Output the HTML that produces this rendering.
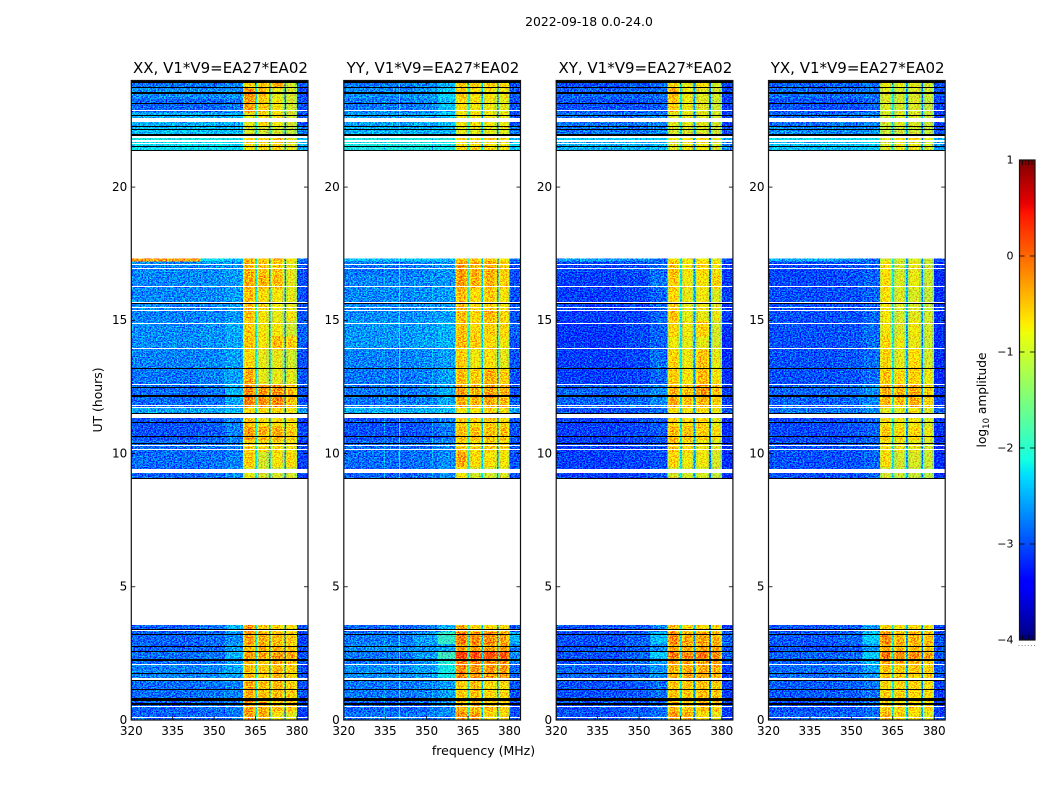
<!DOCTYPE html>
<html>
<head>
<meta charset="utf-8">
<title>2022-09-18 amplitude waterfall</title>
<style>
html,body{margin:0;padding:0;background:#fff;width:1050px;height:800px;overflow:hidden}
svg{display:block}
text{font-family:"DejaVu Sans","Liberation Sans",sans-serif;fill:#000}
</style>
</head>
<body>
<svg id="chart" xmlns="http://www.w3.org/2000/svg" width="1050" height="800" viewBox="0 0 1050 800">
  <defs>
    <filter id="grain" x="0" y="0" width="1" height="1" color-interpolation-filters="sRGB">
      <feTurbulence type="fractalNoise" baseFrequency="0.62 0.8" numOctaves="2" seed="7" result="n"/>
      <feColorMatrix in="n" type="matrix" values="0 0 0 0 0.5  0 3 0 0 -1  0 0 0 0 0.5  0 0 0 0 1" result="g"/>
      <feComposite in="SourceGraphic" in2="g" operator="arithmetic" k1="0" k2="1" k3="0.8" k4="-0.4" result="c"/>
      <feComposite in="c" in2="SourceAlpha" operator="in"/>
    </filter>
  </defs>
  <text x="589" y="26" font-size="12.4" text-anchor="middle">2022-09-18 0.0-24.0</text>
  <text x="483.5" y="755" font-size="12.5" text-anchor="middle">frequency (MHz)</text>
  <text transform="translate(102,400) rotate(-90)" font-size="12.4" text-anchor="middle">UT (hours)</text>
  <text transform="translate(986,400) rotate(-90)" font-size="12.2" text-anchor="middle">log<tspan font-size="8.5" dy="3">10</tspan><tspan dy="-3"> amplitude</tspan></text>
  <g id="panels"></g>
  <g id="colorbar"></g>
</svg>
<script>
// ---- data (log10 amplitude) ----
const panelTitles = ["XX, V1*V9=EA27*EA02", "YY, V1*V9=EA27*EA02", "XY, V1*V9=EA27*EA02", "YX, V1*V9=EA27*EA02"];
const xTicks = [320, 335, 350, 365, 380];
const yTicks = [0, 5, 10, 15, 20];
const cbarTicks = [1, 0, -1, -2, -3, -4];
const valueMin = -4;
const valueMax = 1;
const freqMin = 320;
const freqMax = 384;
const hourMax = 24;

// frequency columns (MHz): background, background, band edge, 4 subbands, tail
const freqBins = [[320, 345], [345, 354], [354, 360.4], [360.4, 364.8], [365.5, 369.8], [370.5, 375.4], [376, 380], [380, 384]];
// narrow gaps between the subbands (MHz)
const gapBins = [[364.8, 365.5], [369.8, 370.5], [375.4, 376]];
const gapValues = [[-2.1, -2.5, -2.7], [-2.0, -2.4, -2.6], [-2.2, -2.6, -2.8], [-2.1, -2.5, -2.7]];
// each subband rolls off towards its edges by this many dex over this many MHz
const subbandColumns = [3, 4, 5, 6];
const flankDrop = 0.3;
const flankWidth = 0.8;

const timeBins = [
  [0, 0.3], [0.3, 0.75], [0.75, 1.5], [1.5, 2.1], [2.1, 2.3], [2.3, 2.55], [2.55, 2.85], [2.85, 3.3], [3.3, 3.56],
  [9.07, 9.5], [9.5, 10.05], [10.05, 10.5], [10.5, 11], [11, 11.4], [11.4, 11.7], [11.7, 12.1], [12.1, 12.6],
  [12.6, 13.2], [13.2, 13.9], [13.9, 14.4], [14.4, 15], [15, 15.4], [15.4, 16.2], [16.2, 16.7], [16.7, 17.2], [17.2, 17.32],
  [21.4, 21.7], [21.7, 22], [22, 22.3], [22.3, 22.8], [22.8, 23.3], [23.3, 23.7], [23.7, 24]
];

const xxValues = [
  [-2.9,-2.88,-2.85,-.25,-.35,-.75,-.85,-3.1],
  [-2.9,-2.85,-2.75,-.25,-.35,-.45,-.55,-3.1],
  [-2.85,-2.82,-2.75,-.35,-.45,-.45,-.55,-3],
  [-2.75,-2.7,-2.55,-.45,-.55,-.45,-.55,-3],
  [-2.85,-2.8,-2.6,-.35,-.45,-.35,-.45,-3],
  [-2.85,-2.8,-2.5,-.25,-.3,-.2,-.3,-3],
  [-2.9,-2.85,-2.65,-.45,-.35,-.35,-.55,-3],
  [-2.9,-2.85,-2.7,-.25,-.35,-.45,-.55,-3.1],
  [-2.9,-2.8,-2.5,-.25,-.55,-.55,-.65,-3],
  [-2.9,-2.85,-2.7,-.85,-.95,-.95,-.95,-3.1],
  [-2.85,-2.82,-2.75,-.55,-.95,-.75,-.65,-3.1],
  [-2.85,-2.82,-2.75,-.55,-.65,-.65,-.75,-3.1],
  [-3,-2.95,-2.75,-.25,-.35,-.35,-.55,-3],
  [-3,-2.95,-2.75,-.45,-.65,-.65,-.65,-3.1],
  [-2.6,-2.55,-2.45,-.65,-.65,-.55,-.75,-2.6],
  [-2.85,-2.8,-2.55,-.1,-.15,-.15,-.45,-3],
  [-2.85,-2.8,-2.5,-.15,-.2,-.2,-.45,-3],
  [-2.8,-2.75,-2.6,-.35,-.85,-.85,-.85,-3],
  [-2.75,-2.72,-2.6,-.65,-.85,-.85,-.95,-3],
  [-2.7,-2.66,-2.55,-.45,-.75,-.45,-.55,-2.9],
  [-2.7,-2.66,-2.55,-.55,-.75,-.75,-.95,-2.9],
  [-2.75,-2.72,-2.65,-.45,-.75,-.85,-.75,-3],
  [-2.72,-2.7,-2.62,-.45,-.65,-.75,-.85,-3],
  [-2.72,-2.7,-2.62,-.35,-.35,-.45,-.85,-3],
  [-2.72,-2.7,-2.62,-.35,-.55,-.55,-.85,-3],
  [-.3,-2.2,-2.45,-.45,-.55,-.45,-.65,-2.8],
  [-2.2,-2.2,-2.25,-.75,-.65,-.65,-.85,-2.5],
  [-2.1,-2.1,-2.15,-.65,-.55,-.45,-.85,-2.4],
  [-2.4,-2.4,-2.4,-.95,-.95,-.95,-1.05,-2.8],
  [-2.5,-2.5,-2.5,-.85,-.65,-.75,-.95,-3],
  [-2.9,-2.9,-2.8,-.25,-.55,-.75,-.95,-3],
  [-2.7,-2.7,-2.65,-.15,-.45,-.85,-.95,-3],
  [-2.8,-2.8,-2.7,-.55,-.45,-.35,-.95,-3]
];

const yyValues = [
  [-2.8,-2.77,-2.7,-.2,-.25,-.65,-.75,-3],
  [-2.9,-2.85,-2.7,-.4,-.45,-.45,-.55,-3],
  [-2.8,-2.75,-2.6,-.55,-.45,-.65,-.65,-3],
  [-2.7,-2.6,-2.15,-.15,-.2,-.25,-.25,-2.9],
  [-2.8,-2.7,-2.05,-.1,-.15,-.15,-.15,-2.8],
  [-2.8,-2.6,-1.9,.3,.2,.2,.15,-2.7],
  [-2.7,-2.65,-2.55,-.25,-.25,-.25,-.25,-2.8],
  [-2.8,-2.6,-1.95,-.05,-.15,-.15,-.3,-2.5],
  [-2.9,-2.82,-2.5,-.35,-.65,-.65,-.65,-3],
  [-2.9,-2.85,-2.7,-.75,-.95,-.95,-.9,-3],
  [-2.85,-2.82,-2.7,-.3,-.65,-.7,-.75,-3],
  [-2.85,-2.82,-2.7,-.55,-.65,-.55,-.65,-3],
  [-3,-2.95,-2.8,-.45,-.45,-.45,-.45,-3],
  [-3,-2.95,-2.75,-.55,-.65,-.55,-.65,-3],
  [-2.5,-2.5,-2.4,-.75,-.75,-.65,-.75,-2.6],
  [-2.8,-2.75,-2.55,-.35,-.4,-.3,-.4,-2.9],
  [-2.8,-2.75,-2.55,-.25,-.35,-.25,-.35,-3],
  [-2.8,-2.75,-2.6,-.45,-.55,-.35,-.55,-3],
  [-2.75,-2.7,-2.6,-.55,-.8,-.7,-.85,-3],
  [-2.65,-2.6,-2.5,-.45,-.55,-.65,-.75,-3],
  [-2.65,-2.6,-2.5,-.45,-.65,-.55,-.65,-2.9],
  [-2.7,-2.65,-2.6,-.45,-.6,-.4,-.65,-3],
  [-2.72,-2.68,-2.6,-.45,-.65,-.55,-.75,-3],
  [-2.72,-2.7,-2.65,-.25,-.4,-.4,-.6,-3],
  [-2.8,-2.75,-2.65,-.25,-.35,-.35,-.55,-3],
  [-2.4,-2.4,-2.45,-.55,-.55,-.55,-.65,-2.8],
  [-2.1,-2.1,-2.15,-.65,-.65,-.65,-.75,-2.4],
  [-2.1,-2.1,-2.05,-.65,-.65,-.55,-.65,-2.4],
  [-2.5,-2.5,-2.45,-.85,-.85,-.85,-.85,-2.8],
  [-2.6,-2.55,-2.4,-.8,-.75,-.8,-.8,-3],
  [-2.8,-2.75,-2.4,-.7,-.75,-.8,-.85,-3],
  [-2.7,-2.65,-2.3,-.55,-.75,-.75,-.8,-3],
  [-2.8,-2.75,-2.5,-.55,-.55,-.55,-.65,-3]
];

const xyValues = [
  [-3,-2.95,-2.85,-.25,-.35,-.7,-.8,-3.1],
  [-3,-2.95,-2.85,-.45,-.45,-.45,-.55,-3.1],
  [-3,-2.95,-2.85,-.5,-.5,-.5,-.5,-3.1],
  [-2.9,-2.85,-2.65,-.35,-.35,-.35,-.4,-3.1],
  [-3,-2.9,-2.6,-.25,-.25,-.25,-.25,-3],
  [-3,-2.9,-2.35,-.05,-.1,-.05,-.15,-2.9],
  [-3,-2.95,-2.7,-.35,-.35,-.35,-.35,-3],
  [-3,-2.9,-2.45,-.15,-.3,-.3,-.4,-2.9],
  [-3,-2.95,-2.75,-.45,-.65,-.65,-.65,-3.1],
  [-3.1,-3.1,-2.95,-.95,-.95,-.95,-1.05,-3.2],
  [-3.1,-3.05,-3,-.65,-.8,-.8,-.95,-3.2],
  [-3.1,-3.05,-3,-.5,-.7,-.8,-.9,-3.2],
  [-3.1,-3.05,-2.95,-.4,-.5,-.6,-.7,-3.2],
  [-3.1,-3.05,-2.95,-.6,-.65,-.65,-.85,-3.2],
  [-3,-3,-2.85,-.75,-.75,-.7,-.8,-3],
  [-2.9,-2.85,-2.7,-.3,-.5,-.4,-.55,-3.1],
  [-2.9,-2.85,-2.7,-.4,-.45,-.2,-.5,-3.1],
  [-3.1,-3.05,-2.9,-.55,-.75,-.45,-.75,-3.2],
  [-3.1,-3.05,-2.85,-.6,-.8,-.5,-.85,-3.2],
  [-3.15,-3.05,-2.9,-.8,-.85,-.85,-.95,-3.2],
  [-3.15,-3.05,-2.9,-.65,-.8,-.6,-.95,-3.2],
  [-3.1,-3.05,-2.9,-.5,-.85,-.85,-.8,-3.1],
  [-3.1,-3.05,-2.9,-.65,-.85,-.8,-.9,-3.1],
  [-3.1,-3.05,-2.8,-.55,-.8,-.75,-.55,-3.1],
  [-3.05,-3,-2.85,-.45,-.75,-.65,-.75,-3.1],
  [-2.6,-2.7,-2.85,-.75,-.8,-.8,-.85,-3],
  [-2.5,-2.5,-2.45,-.9,-.8,-.8,-.95,-2.7],
  [-2.3,-2.3,-2.3,-.8,-.7,-.7,-.85,-2.5],
  [-2.8,-2.8,-2.7,-.95,-.95,-.95,-1,-3],
  [-2.8,-2.8,-2.75,-.9,-.85,-.9,-.95,-3.1],
  [-3,-3,-2.95,-.55,-.8,-.9,-1,-3.1],
  [-2.9,-2.9,-2.85,-.4,-.8,-.9,-.95,-3.1],
  [-3,-3,-2.85,-.65,-.85,-.7,-.95,-3.1]
];

const yxValues = [
  [-2.9,-2.9,-2.85,-.4,-.55,-.75,-.85,-3.1],
  [-3,-2.95,-2.85,-.55,-.6,-.65,-.65,-3.1],
  [-2.95,-2.92,-2.8,-.6,-.6,-.65,-.7,-3.1],
  [-2.85,-2.82,-2.6,-.45,-.5,-.55,-.55,-3],
  [-2.9,-2.85,-2.5,-.3,-.35,-.4,-.45,-3],
  [-2.9,-2.85,-2.35,0,-.15,-.15,-.25,-3],
  [-3,-2.95,-2.65,-.35,-.45,-.45,-.45,-3],
  [-2.95,-2.88,-2.35,-.15,-.4,-.4,-.45,-3],
  [-3,-2.95,-2.6,-.55,-.7,-.7,-.75,-3.1],
  [-3,-3,-2.9,-.95,-1,-1.05,-1.1,-3.2],
  [-3,-3,-2.9,-.65,-.95,-.95,-1,-3.2],
  [-3,-2.97,-2.9,-.7,-.8,-.85,-.95,-3.2],
  [-3.05,-3,-2.9,-.5,-.6,-.65,-.8,-3.2],
  [-3.05,-3,-2.9,-.7,-.75,-.8,-.9,-3.2],
  [-2.8,-2.8,-2.7,-.85,-.85,-.8,-.9,-2.9],
  [-2.9,-2.87,-2.7,-.4,-.45,-.35,-.6,-3.1],
  [-2.9,-2.87,-2.7,-.35,-.35,-.3,-.55,-3.1],
  [-3,-2.97,-2.85,-.5,-.65,-.6,-.8,-3.2],
  [-3,-2.97,-2.85,-.6,-.85,-.7,-.95,-3.2],
  [-3,-2.97,-2.85,-.65,-.8,-.85,-1,-3.2],
  [-3,-2.97,-2.85,-.75,-.9,-.8,-.95,-3.2],
  [-3,-3,-2.9,-.75,-.95,-.9,-.95,-3.2],
  [-3,-3,-2.9,-.7,-.9,-.95,-1.05,-3.2],
  [-3.05,-3,-2.9,-.7,-.9,-.85,-1,-3.2],
  [-3.05,-3,-2.9,-.7,-.95,-.85,-1,-3.2],
  [-2.5,-2.7,-2.85,-.9,-.95,-.95,-1,-3],
  [-2.4,-2.4,-2.35,-.9,-.8,-.85,-.95,-2.6],
  [-2.2,-2.2,-2.15,-.85,-.7,-.7,-.8,-2.5],
  [-2.7,-2.7,-2.65,-1,-1,-1,-1.05,-3],
  [-2.85,-2.82,-2.75,-.95,-.9,-.95,-1,-3.1],
  [-3,-3,-2.9,-.9,-.95,-.95,-1.05,-3.1],
  [-2.85,-2.85,-2.8,-.9,-.95,-.95,-1,-3],
  [-2.9,-2.9,-2.8,-.8,-.85,-.9,-.95,-3]
];

const panelValues = [xxValues, yyValues, xyValues, yxValues];

// single-channel interference lines: [panel index, MHz, log10 amplitude]
const rfiLines = [[1, 340, -2.0], [1, 334.5, -2.55], [1, 352, -2.5]];

// fully blank integrations (hours)
const blankBands = [
  [0.06, 0.1], [0.47, 0.51], [1.5, 1.58], [2.08, 2.12], [3.33, 3.37],
  [9.26, 9.41], [10.14, 10.18], [10.27, 10.31], [11.33, 11.51], [11.72, 11.76], [11.79, 11.83], [12.58, 12.62],
  [13.93, 13.97], [14.87, 14.91], [15.35, 15.39], [15.47, 15.51], [15.65, 15.69], [16.25, 16.29], [16.93, 16.97], [17.09, 17.13],
  [21.6, 21.64], [21.69, 21.75], [21.83, 21.9], [22.43, 22.58], [22.84, 22.88]
];
// fully flagged integrations drawn black (hours)
const flaggedBands = [
  [0.58, 0.62], [0.73, 0.83], [1.12, 1.16], [1.46, 1.5], [1.71, 1.75], [2.23, 2.29], [2.55, 2.59], [2.74, 2.78], [3.19, 3.23], [3.37, 3.43],
  [9.03, 9.07], [10.37, 10.41], [10.63, 10.67], [11.16, 11.2], [11.49, 11.53], [12.12, 12.18], [12.47, 12.51], [13.18, 13.22], [15.62, 15.66],
  [21.37, 21.41], [21.49, 21.53], [21.9, 21.98], [22.14, 22.18], [22.24, 22.28], [22.67, 22.7], [23.1, 23.14], [23.51, 23.55], [23.7, 23.74], [23.92, 24]
];

// ---- layout ----
const SVGNS = "http://www.w3.org/2000/svg";
const panelLeft = [131.3, 343.8, 556.2, 768.5];
const panelWidth = 176.7;
const plotTop = 80.5;
const plotBottom = 720;
const cbar = { x: 1019.5, y: 160, w: 15.5, h: 480 };

function xScale(p, f) { return panelLeft[p] + (f - freqMin) / (freqMax - freqMin) * panelWidth; }
function yScale(h) { return plotBottom - h / hourMax * (plotBottom - plotTop); }
function interp(stops, t) {
  for (let i = 1; i < stops.length; i++) {
    if (t <= stops[i][0]) {
      const a = stops[i - 1], b = stops[i];
      return a[1] + (b[1] - a[1]) * (t - a[0]) / (b[0] - a[0]);
    }
  }
  return stops[stops.length - 1][1];
}
function jet(t) {
  t = Math.max(0, Math.min(1, t));
  const r = interp([[0, 0], [.35, 0], [.66, 1], [.89, 1], [1, .5]], t);
  const g = interp([[0, 0], [.125, 0], [.375, 1], [.64, 1], [.91, 0], [1, 0]], t);
  const b = interp([[0, .5], [.11, 1], [.34, 1], [.65, 0], [1, 0]], t);
  return "rgb(" + Math.round(r * 255) + "," + Math.round(g * 255) + "," + Math.round(b * 255) + ")";
}
function colorOf(v) { return jet((v - valueMin) / (valueMax - valueMin)); }
function make(tag, attrs, parent) {
  const el = document.createElementNS(SVGNS, tag);
  for (const k in attrs) el.setAttribute(k, attrs[k]);
  parent.appendChild(el);
  return el;
}
function bandRect(p, b, fill, parent) {
  const y0 = Math.round(yScale(b[1]));
  const h = Math.max(1, Math.round(yScale(b[0])) - y0);
  return make("rect", { x: panelLeft[p], y: y0, width: panelWidth, height: h, fill: fill, "shape-rendering": "crispEdges" }, parent);
}

// ---- panels ----
const panelsRoot = document.getElementById("panels");
panelTitles.forEach(function (title, p) {
  const g = make("g", {}, panelsRoot);
  
  

  const heat = make("g", { filter: "url(#grain)", "shape-rendering": "crispEdges" }, g);
  
  

  timeBins.forEach(function (tb, r) {
    const y0 = yScale(tb[1]);
    const y1 = yScale(tb[0]);
    freqBins.forEach(function (fb, c) {
      const v = panelValues[p][r][c];
      const cell = make("rect", { x: xScale(p, fb[0]), y: y0, width: xScale(p, fb[1]) - xScale(p, fb[0]), height: y1 - y0, fill: colorOf(v) }, heat);
      
      
      if (subbandColumns.indexOf(c) >= 0) {
        const leftFlank = make("rect", { x: xScale(p, fb[0]), y: y0, width: xScale(p, fb[0] + flankWidth) - xScale(p, fb[0]), height: y1 - y0, fill: colorOf(v - flankDrop) }, heat);
        
        
        const rightFlank = make("rect", { x: xScale(p, fb[1] - flankWidth), y: y0, width: xScale(p, fb[1]) - xScale(p, fb[1] - flankWidth), height: y1 - y0, fill: colorOf(v - flankDrop) }, heat);
        
        
      }
    });
    gapBins.forEach(function (fb, c) {
      const gap = make("rect", { x: xScale(p, fb[0]), y: y0, width: xScale(p, fb[1]) - xScale(p, fb[0]), height: y1 - y0, fill: colorOf(gapValues[p][c]) }, heat);
      
      
    });
    rfiLines.filter(function (l) { return l[0] === p; }).forEach(function (l) {
      const line = make("rect", { x: xScale(p, l[1]), y: y0, width: 1, height: y1 - y0, fill: colorOf(l[2]) }, heat);
      
      
    });
  });

  blankBands.forEach(function (b) {
    const blank = bandRect(p, b, "#fff", g);
    
    
  });
  flaggedBands.forEach(function (b) {
    const flag = bandRect(p, b, "#000", g);
    
    
  });

  xTicks.forEach(function (t) {
    const x = xScale(p, t);
    const tickB = make("line", { x1: x, x2: x, y1: plotBottom, y2: plotBottom - 4, stroke: "#000", "stroke-width": 0.8 }, g);
    
    
    const tickT = make("line", { x1: x, x2: x, y1: plotTop, y2: plotTop + 4, stroke: "#000", "stroke-width": 0.8 }, g);
    
    
    const lab = make("text", { x: x, y: 735, "font-size": 12, "text-anchor": "middle" }, g);
    lab.textContent = String(t);
    
    
  });
  yTicks.forEach(function (t) {
    const y = yScale(t);
    const tickL = make("line", { x1: panelLeft[p], x2: panelLeft[p] + 4, y1: y, y2: y, stroke: "#000", "stroke-width": 0.8 }, g);
    
    
    const tickR = make("line", { x1: panelLeft[p] + panelWidth - 4, x2: panelLeft[p] + panelWidth, y1: y, y2: y, stroke: "#000", "stroke-width": 0.8 }, g);
    
    
    const lab = make("text", { x: panelLeft[p] - 4, y: y + 3.8, "font-size": 12, "text-anchor": "end" }, g);
    lab.textContent = String(t);
    
    
  });

  const frame = make("rect", { x: panelLeft[p], y: plotTop, width: panelWidth, height: plotBottom - plotTop, fill: "none", stroke: "#111", "stroke-width": 1.2 }, g);
  
  

  const ttl = make("text", { x: panelLeft[p] + panelWidth / 2 + 0.8, y: 73, "font-size": 15, "text-anchor": "middle" }, g);
  ttl.textContent = title;
  
  
});

// ---- colorbar ----
const cbarRoot = document.getElementById("colorbar");
const cbarSteps = 240;
function cbarY(v) { return cbar.y + (valueMax - v) / (valueMax - valueMin) * cbar.h; }
for (let i = 0; i < cbarSteps; i++) {
  const v = valueMax - (i + 0.5) / cbarSteps * (valueMax - valueMin);
  const seg = make("rect", { x: cbar.x, y: cbar.y + i * cbar.h / cbarSteps, width: cbar.w, height: cbar.h / cbarSteps + 0.5, fill: colorOf(v), "shape-rendering": "crispEdges" }, cbarRoot);
  
  
}
cbarTicks.forEach(function (t) {
  const y = cbarY(t);
  const left = make("line", { x1: cbar.x, x2: cbar.x + 5, y1: y, y2: y, stroke: "#000", "stroke-width": 0.8 }, cbarRoot);
  
  
  const right = make("line", { x1: cbar.x + cbar.w - 5, x2: cbar.x + cbar.w, y1: y, y2: y, stroke: "#000", "stroke-width": 0.8 }, cbarRoot);
  
  
  const lab = make("text", { x: 1013.5, y: y + 3.6, "font-size": 11, "text-anchor": "end" }, cbarRoot);
  lab.textContent = String(t).replace("-", "\u2212");
  
  
});
[0.2, 0.4, 0.6, 0.8].forEach(function (f) {
  const x = cbar.x + f * cbar.w;
  const topTick = make("line", { x1: x, x2: x, y1: cbar.y, y2: cbar.y + 5, stroke: "#000", "stroke-width": 0.8 }, cbarRoot);
  
  
  const botTick = make("line", { x1: x, x2: x, y1: cbar.y + cbar.h - 5, y2: cbar.y + cbar.h, stroke: "#000", "stroke-width": 0.8 }, cbarRoot);
  
  
});
[0, 0.2, 0.4, 0.6, 0.8, 1].forEach(function (f) {
  const dot = make("rect", { x: cbar.x - 1 + f * cbar.w, y: 645, width: 1, height: 1, fill: "#888" }, cbarRoot);
  
  
});
const cbarFrame = make("rect", { x: cbar.x, y: cbar.y, width: cbar.w, height: cbar.h, fill: "none", stroke: "#111", "stroke-width": 1.2 }, cbarRoot);


</script>
</body>
</html>
